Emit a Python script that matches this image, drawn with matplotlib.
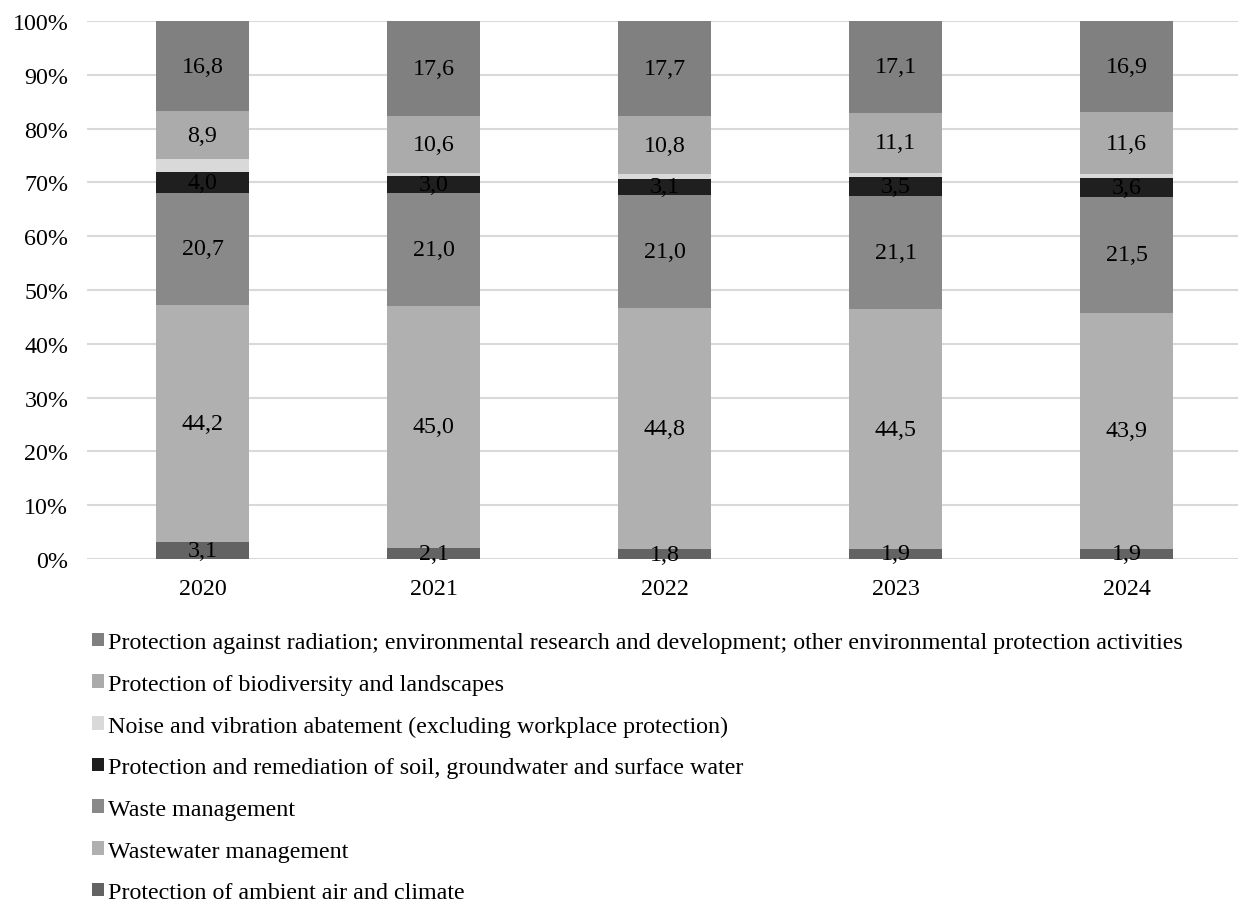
import numpy as np
import matplotlib.pyplot as plt

plt.rcParams['font.family'] = ['Liberation Serif', 'DejaVu Serif']

years = ['2020', '2021', '2022', '2023', '2024']
air = [3.1, 2.1, 1.8, 1.9, 1.9]
wastewater = [44.2, 45.0, 44.8, 44.5, 43.9]
waste = [20.7, 21.0, 21.0, 21.1, 21.5]
soil = [4.0, 3.0, 3.1, 3.5, 3.6]
noise = [2.3, 0.7, 0.8, 0.8, 0.6]
biodiversity = [8.9, 10.6, 10.8, 11.1, 11.6]
other = [16.8, 17.6, 17.7, 17.1, 16.9]

series = [
    ('Protection of ambient air and climate', air, '#636363', True),
    ('Wastewater management', wastewater, '#B0B0B0', True),
    ('Waste management', waste, '#898989', True),
    ('Protection and remediation of soil, groundwater and surface water', soil, '#1F1F1F', True),
    ('Noise and vibration abatement (excluding workplace protection)', noise, '#D9D9D9', False),
    ('Protection of biodiversity and landscapes', biodiversity, '#ABABAB', True),
    ('Protection against radiation; environmental research and development; other environmental protection activities', other, '#808080', True),
]

FS = 17.3

fig = plt.figure(figsize=(12.38, 9.03), dpi=100)
ax = fig.add_axes([87 / 1238, 1 - 560 / 903, 1155 / 1238, (560 - 22) / 903])

x = np.arange(len(years))
bottom = np.zeros(len(years))
handles = []
for name, vals, color, show in series:
    vals = np.array(vals)
    b = ax.bar(x, vals, 0.4, bottom=bottom, color=color, label=name, zorder=2)
    handles.append(b)
    if show:
        for xi, v, bt in zip(x, vals, bottom):
            ax.text(xi, bt + v / 2, f'{v:.1f}'.replace('.', ','), ha='center', va='center',
                    fontsize=FS, color='black', zorder=3)
    bottom += vals

ax.set_xlim(-0.5, 4.5)
ax.set_ylim(0, 100)
ax.set_yticks(np.arange(0, 101, 10))
ax.set_yticklabels([f'{v}%' for v in range(0, 101, 10)])
ax.set_xticks(x)
ax.set_xticklabels(years)
ax.tick_params(axis='both', length=0, labelsize=FS, colors='black')
ax.tick_params(axis='y', pad=13.5)
ax.tick_params(axis='x', pad=14)
ax.grid(axis='y', color='#D9D9D9', linewidth=1.5, zorder=0)
for s in ax.spines.values():
    s.set_visible(False)

fig.legend(handles[::-1], [s[0] for s in series][::-1], loc='upper left',
           bbox_to_anchor=(92 / 1238, 1 - 633 / 903), frameon=False, fontsize=FS,
           handlelength=0.5, handleheight=0.5, handletextpad=0.17, labelspacing=0.86,
           borderaxespad=0, borderpad=0)

fig.savefig('out.png', dpi=100)
